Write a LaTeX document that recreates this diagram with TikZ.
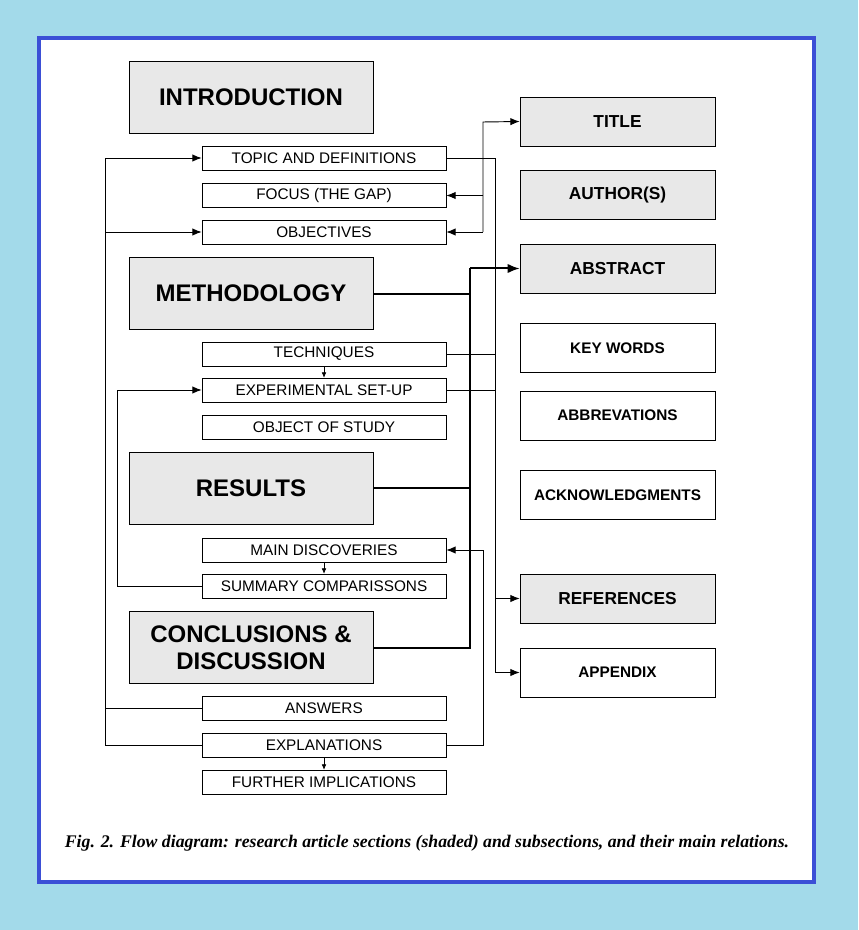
\documentclass[tikz,border=0pt]{standalone}
\usepackage{fontspec}
\setmainfont{Liberation Sans}
\newfontfamily\capfont{Liberation Serif}
\usetikzlibrary{arrows.meta}
\definecolor{bgblue}{HTML}{A3DAEA}
\definecolor{frameblue}{HTML}{3B4FD6}
\definecolor{shade}{HTML}{E8E8E8}
\begin{document}
\begin{tikzpicture}[x=0.75pt,y=-0.75pt,
  big/.style={draw,fill=shade,minimum width=244*0.75pt,minimum height=72*0.75pt,font=\fontsize{18}{20}\selectfont\bfseries,align=center,inner sep=0pt},
  sub/.style={draw,fill=white,minimum width=244*0.75pt,minimum height=24*0.75pt,font=\fontsize{11.5}{13}\selectfont,inner sep=0pt},
  rs/.style={draw,fill=shade,minimum width=195*0.75pt,minimum height=49*0.75pt,font=\fontsize{13}{15}\selectfont\bfseries,inner sep=0pt},
  rw/.style={rs,fill=white,font=\fontsize{11.5}{13}\selectfont\bfseries},
  ln/.style={line width=0.7pt},
  ar/.style={ln,-{Latex[length=7pt,width=5.5pt]}},
  sar/.style={line width=0.5pt,-{Latex[length=4pt,width=3.5pt]}},
  thick/.style={line width=1.5pt}]
\fill[bgblue] (0,0) rectangle (858,930);
\draw[frameblue,line width=3pt,fill=white] (39,38) rectangle (814,882);
\node[big] (intro) at (251,97.5) {INTRODUCTION};
\node[sub] (topic) at (324,158) {TOPIC AND DEFINITIONS};
\node[sub] (focus) at (324,195.5) {FOCUS (THE GAP)};
\node[sub] (obj) at (324,232) {OBJECTIVES};
\node[big] (meth) at (251,293.5) {METHODOLOGY};
\node[sub] (tech) at (324,354) {TECHNIQUES};
\node[sub] (exp) at (324,390) {EXPERIMENTAL SET-UP};
\node[sub] (os) at (324,427.5) {OBJECT OF STUDY};
\node[big] (res) at (251,488) {RESULTS};
\node[sub] (main) at (324,550) {MAIN DISCOVERIES};
\node[sub] (sum) at (324,586) {SUMMARY COMPARISSONS};
\node[big] (conc) at (251,647.5) {CONCLUSIONS \&\\DISCUSSION};
\node[sub] (ans) at (324,708) {ANSWERS};
\node[sub] (expl) at (324,745) {EXPLANATIONS};
\node[sub] (fur) at (324,782) {FURTHER IMPLICATIONS};
\node[rs] (title) at (617.5,121.5) {TITLE};
\node[rs] (auth) at (617.5,195) {AUTHOR(S)};
\node[rs] (abs) at (617.5,268.5) {ABSTRACT};
\node[rw] (key) at (617.5,348) {KEY WORDS};
\node[rw] (abb) at (617.5,415.5) {ABBREVATIONS};
\node[rw] (ack) at (617.5,495) {ACKNOWLEDGMENTS};
\node[rs] (ref) at (617.5,598.5) {REFERENCES};
\node[rw] (app) at (617.5,672.5) {APPENDIX};
\coordinate (c1) at (483,122);
\draw[ar] (483,232) -- (obj.east);
\draw[ar] (483,195.5) -- (focus.east);
\draw[ar] (483,232) -- (c1) -- (title.west);
\draw[ln] (topic.east) -- (495,158) -- (495,672.5);
\draw[ln] (tech.east) -- (495,354);
\draw[ln] (exp.east) -- (495,390);
\draw[ar] (495,598.5) -- (ref.west);
\draw[ar] (495,672.5) -- (app.west);
\draw[thick] (conc.east) -- (470,647.5) -- (470,268.5);
\draw[thick] (meth.east) -- (470,293.5);
\draw[thick] (res.east) -- (470,488);
\draw[thick,-{Latex[length=9pt,width=7pt]}] (470,268.5) -- (abs.west);
\draw[ar] (expl.east) -- (483,745) -- (483,550) -- (main.east);
\draw[ar] (ans.west) -- (105,708) -- (105,158) -- (topic.west);
\draw[ln] (expl.west) -- (105,745) -- (105,708);
\draw[ar] (105,232) -- (obj.west);
\draw[ar] (sum.west) -- (117,586) -- (117,390) -- (exp.west);
\draw[sar] (tech.south) -- (exp.north);
\draw[sar] (main.south) -- (sum.north);
\draw[sar] (expl.south) -- (fur.north);
\node[font=\capfont\fontsize{13.3}{15}\selectfont\bfseries\itshape] (cap) at (427,843) {Fig. 2. Flow diagram: research article sections (shaded) and subsections, and their main relations.};
\end{tikzpicture}
\end{document}
